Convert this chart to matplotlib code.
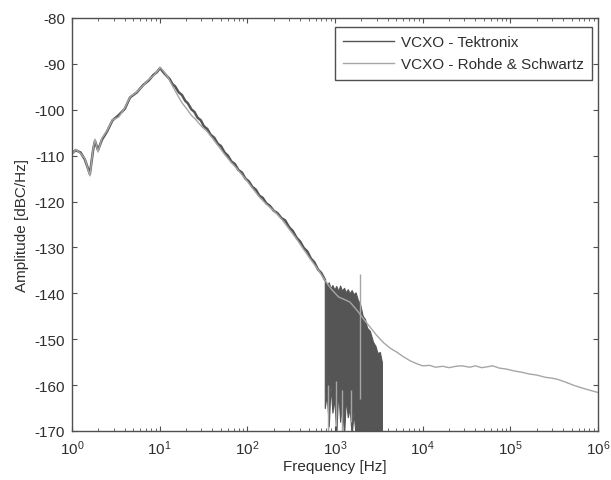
import matplotlib
matplotlib.use("Agg")
import matplotlib.pyplot as plt
import numpy as np

plt.rcParams["font.family"] = ["Liberation Sans", "DejaVu Sans"]
plt.rcParams["axes.unicode_minus"] = False

# Rohde & Schwartz trace (frequency in Hz, amplitude in dBc/Hz)
rs_freq = [1, 1.1, 1.25, 1.4, 1.6, 1.75, 1.83, 1.98, 2.2, 2.5, 2.9, 3.4, 4, 4.6,
           5.5, 6.5, 7.5, 8.5, 9.3, 10.1, 11, 12.5, 14, 16, 18, 20, 23, 26, 30,
           35, 40, 48, 56, 65, 75, 88, 100, 120, 140, 165, 190, 220, 246, 300,
           360, 430, 500, 560, 650, 760, 900, 1100, 1300, 1480, 1800, 2200,
           2500, 3000, 3600, 4300, 5060, 6000, 7200, 8700, 10000, 12000, 14000,
           17000, 20000, 24000, 28000, 34500, 40000, 47000, 55000, 63000, 75000,
           90000, 110000, 135000, 166000, 200000, 250000, 300000, 340000,
           420000, 520000, 650000, 870000, 1000000]
rs_amp = [-109.8, -108.6, -109.5, -110.6, -114.4, -108.2, -106.4, -109.2,
          -106.2, -104.6, -102.2, -101.6, -99.6, -97.2, -96.1, -94.7, -93.4,
          -92.6, -91.7, -90.8, -91.5, -93, -94.8, -96.8, -98.5, -99.6, -101.2,
          -102.2, -103.6, -104.8, -106.2, -108.2, -109.9, -111.4, -112.7,
          -114.3, -115.6, -117.6, -119.2, -120.6, -121.6, -122.8, -123.8, -126,
          -128, -130.2, -132, -133.3, -135, -137, -139, -140.8, -141.4, -141.9,
          -143.8, -146, -147.3, -149.2, -150.8, -152, -152.8, -153.8, -154.7,
          -155.4, -155.8, -155.7, -156.1, -155.9, -156.2, -155.9, -155.8,
          -156.1, -155.8, -156.2, -156, -155.8, -156.3, -156.5, -156.9, -157.2,
          -157.6, -157.8, -158.3, -158.5, -158.7, -159.3, -160, -160.6, -161.3,
          -161.6]

# Tektronix trace (noisy FFT measurement)
tek_freq = [1, 1.1, 1.25, 1.4, 1.6, 1.75, 1.83, 1.98, 2.2, 2.5, 2.9, 3.4, 4,
            4.6, 5.5, 6.5, 7.5, 8.5, 9.3, 10.1, 11, 12, 13, 14, 15, 16.5, 18,
            19.5, 21, 23, 25, 27, 29.5, 32, 35, 38, 42, 46, 50, 55, 60, 66, 72,
            79, 87, 95, 104, 114, 125, 137, 150, 165, 180, 200, 220, 245, 270,
            300, 330, 365, 400, 440, 485, 530, 580, 640, 700, 765]
tek_amp = [-109.5, -108.8, -109.3, -110.8, -114, -108.5, -106.8, -108.8,
           -106.5, -104.8, -102.3, -101.2, -99.8, -97.3, -96.2, -94.6, -93.6,
           -92.4, -91.8, -90.9, -91.8, -92.6, -93.3, -94.4, -94.9, -96.2, -96.8,
           -98.0, -98.6, -99.9, -100.5, -101.7, -102.3, -103.6, -104.2, -105.4,
           -106.1, -107.4, -107.9, -109.3, -110.0, -111.3, -111.8, -113.1,
           -113.7, -115.0, -115.6, -116.8, -117.4, -118.7, -119.2, -120.4,
           -120.9, -122.0, -122.5, -123.6, -124.1, -125.6, -126.4, -127.9,
           -128.7, -130.1, -130.9, -132.4, -133.2, -134.8, -135.6, -137]

# Tektronix noisy region: upper and lower envelope
band_freq = [765, 805, 850, 890, 935, 985, 1035, 1090, 1145, 1200, 1270, 1330,
             1400, 1470, 1550, 1630, 1720, 1820, 1930, 2070, 2200, 2320, 2500,
             2720, 2900, 3050, 3250, 3430]
band_high = [-137, -138.4, -137.6, -138.9, -138.2, -139.2, -138.4, -139.5,
             -138.3, -139.4, -138.8, -139.8, -139.1, -140, -139.3, -140.2,
             -139.8, -141.4, -142.3, -144.9, -145.6, -147.5, -148.2, -150.6,
             -151.5, -153, -152.8, -155]
band_low = [-165, -162, -169, -160, -166, -163, -171, -161, -168, -164, -171,
            -163, -167, -165, -171, -166, -171, -171, -171, -171, -171, -171,
            -171, -171, -171, -171, -171, -171]

# light spikes inside the noisy region
spike_freq = [830, 1035, 1200, 1510, 1930]
spike_top = [-160, -159, -161, -161, -135.8]
spike_bottom = [-170, -169, -170, -168, -163]

fig, ax = plt.subplots(figsize=(6.11, 4.81), dpi=100)
fig.subplots_adjust(left=0.1178, right=0.9787, bottom=0.1019, top=0.9605)

dark = "#555555"
light = "#a6a6a6"
txt = "#2e2e2e"

ax.fill_between(band_freq, band_low, band_high, color=dark, lw=0.8)
ax.vlines(spike_freq, spike_bottom, spike_top, color=light, lw=1.0)
ax.plot(tek_freq, tek_amp, color=dark, lw=1.8, label="VCXO - Tektronix")
ax.plot(rs_freq, rs_amp, color=light, lw=1.0, label="VCXO - Rohde & Schwartz")

ax.set_xscale("log")
ax.set_xlim(1, 1e6)
ax.set_ylim(-170, -80)
ax.set_yticks(np.arange(-170, -79, 10))
ax.set_xlabel("Frequency [Hz]", fontsize=11, color=txt, labelpad=2)
ax.set_ylabel("Amplitude [dBC/Hz]", fontsize=11, color=txt, labelpad=4)

ax.tick_params(which="both", direction="in", top=True, right=True,
               labelsize=11, colors="#505050", labelcolor=txt)
ax.tick_params(which="major", length=3.5, pad=5)
ax.tick_params(which="minor", length=2)
for s in ax.spines.values():
    s.set_color("#505050")
    s.set_linewidth(1.0)

leg = ax.legend(loc="upper right", bbox_to_anchor=(0.9886, 0.978),
                borderaxespad=0, fontsize=11, fancybox=False, framealpha=1,
                edgecolor="#505050", handlelength=3.3, handletextpad=0.45,
                borderpad=0.55, labelspacing=0.5)
leg.get_frame().set_linewidth(1.0)
for t in leg.get_texts():
    t.set_color(txt)
for ln in leg.get_lines():
    ln.set_linewidth(1.0)

fig.savefig("out.png", dpi=100)
